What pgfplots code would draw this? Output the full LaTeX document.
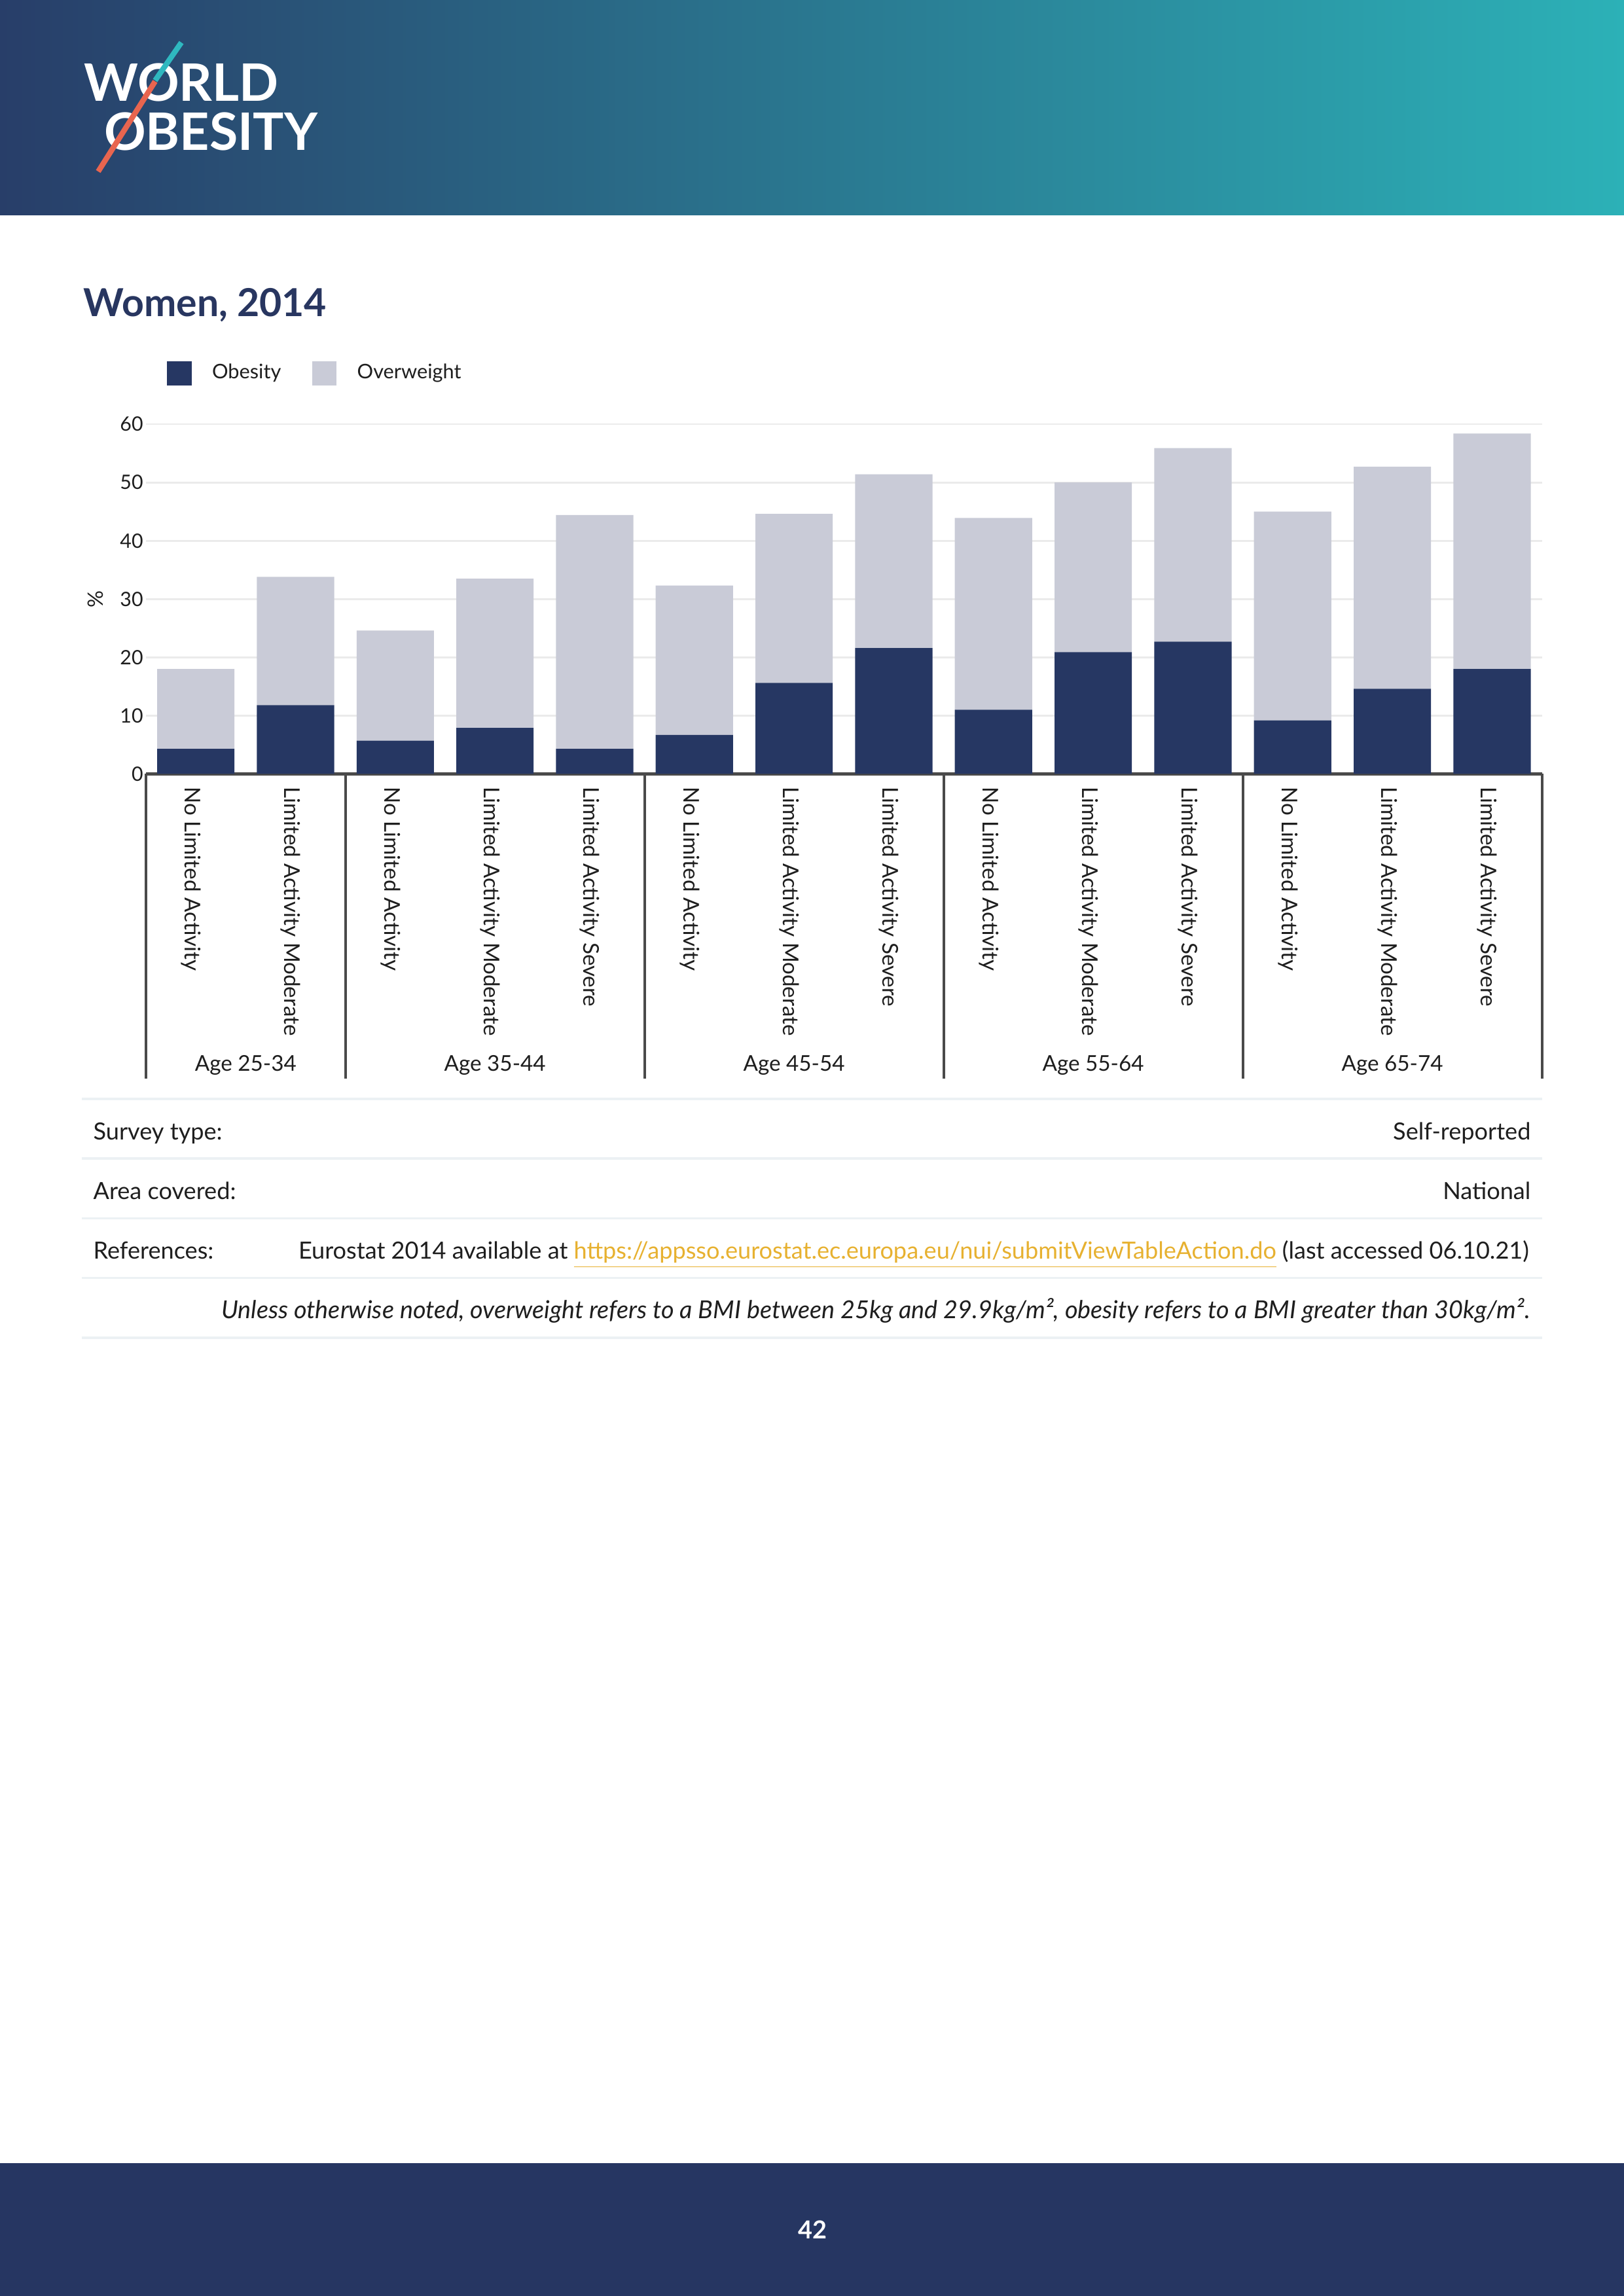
\documentclass[border=0pt]{standalone}
\usepackage{fontspec}
\setmainfont{Lato}
\usepackage{pgfplots}
\usepackage{pgfplotstable}
\pgfplotsset{compat=1.18}

\definecolor{obes}{HTML}{263763}
\definecolor{over}{HTML}{C9CBD7}
\definecolor{gridc}{HTML}{EBEBEB}
\definecolor{axc}{HTML}{4A4A4A}
\definecolor{rulec}{HTML}{ECF1F4}
\definecolor{navy}{HTML}{283660}
\definecolor{hdrA}{HTML}{283E69}
\definecolor{hdrB}{HTML}{2D6C8C}
\definecolor{hdrC}{HTML}{2CB1B7}
\definecolor{logoteal}{HTML}{2FB8C0}
\definecolor{logocoral}{HTML}{E8654F}
\definecolor{linkc}{HTML}{E7B130}
\definecolor{txt}{HTML}{1E1E1E}
\definecolor{footc}{HTML}{263662}

% women 2014, % of each group
\pgfplotstableread{
x  ob    ov
0  4.3   13.7
1  11.8  22.0
2  5.7   18.9
3  7.9   25.6
4  4.3   40.1
5  6.7   25.6
6  15.6  29.0
7  21.6  29.8
8  11.0  32.9
9  20.9  29.1
10 22.7  33.2
11 9.2   35.8
12 14.6  38.1
13 18.0  40.4
}\womendata

\begin{document}
\begin{tikzpicture}[x=1mm,y=1mm]
\path[use as bounding box] (0,0) rectangle (210,296.93);
\fill[white] (0,0) rectangle (210,296.93);

% header band and logo
\shade[left color=hdrA, middle color=hdrB, right color=hdrC] (0,269.1) rectangle (210,296.93);
\node[anchor=base west, inner sep=0, text=white, font=\fontsize{19}{20}\selectfont\bfseries] at (10.8,283.86) {WORLD};
\node[anchor=base west, inner sep=0, text=white, font=\fontsize{19}{20}\selectfont\bfseries] at (13.4,277.46) {OBESITY};
\draw[logoteal, line width=0.7mm] (23.45,291.43) -- (20.06,286.52);
\draw[logocoral, line width=0.7mm] (20.06,286.40) -- (12.70,274.75);

% title
\node[anchor=base west, inner sep=0, text=navy, font=\fontsize{14.2}{16}\selectfont\bfseries] at (10.75,256.0) {Women, 2014};

\begin{axis}[
  at={(18.876mm,196.84mm)}, anchor=south west,
  scale only axis, width=180.51mm, height=45.24mm,
  ybar stacked, bar width=10mm,
  xmin=-0.5, xmax=13.5, ymin=0, ymax=60,
  xtick={0,...,13}, ytick={0,10,...,60},
  xticklabels={No Limited Activity, Limited Activity Moderate,
    No Limited Activity, Limited Activity Moderate, Limited Activity Severe,
    No Limited Activity, Limited Activity Moderate, Limited Activity Severe,
    No Limited Activity, Limited Activity Moderate, Limited Activity Severe,
    No Limited Activity, Limited Activity Moderate, Limited Activity Severe},
  axis x line*=bottom, axis y line*=left,
  separate axis lines,
  x axis line style={draw=axc, line width=0.35mm},
  y axis line style={draw=none},
  tick style={draw=none}, major tick length=0pt,
  ymajorgrids, grid style={gridc, line width=0.25mm},
  /pgf/number format/assume math mode=true,
  yticklabel style={font=\fontsize{7.3}{8}\selectfont, text=txt, inner xsep=0.3mm},
  xticklabel style={font=\fontsize{8}{9}\selectfont, text=txt, inner sep=0pt,
    xshift=-1.4mm, yshift=-1.6mm, rotate=-90, anchor=base west},
  ylabel={\%},
  ylabel style={at={(axis description cs:-0.0361,0.5)}, anchor=center,
    font=\fontsize{7.8}{9}\selectfont, text=txt},
  legend columns=2,
  legend style={at={(axis description cs:0.01498,1.145)}, anchor=west,
    draw=none, fill=none, inner sep=0pt, outer sep=0pt,
    nodes={inner sep=0pt, font=\fontsize{7.4}{9}\selectfont, text=txt},
    /tikz/every odd column/.append style={column sep=2.65mm},
    /tikz/every even column/.append style={column sep=4.0mm}},
  legend image code/.code={\fill[#1] (0mm,-1.6mm) rectangle (3.2mm,1.6mm);},
  clip=false,
]
\addplot[fill=obes, draw=none] table[x=x, y=ob] {\womendata};
\addlegendentry{Obesity}
\addplot[fill=over, draw=none] table[x=x, y=ov] {\womendata};
\addlegendentry{Overweight}

% group separators and age labels
\pgfplotsinvokeforeach{-0.5,1.5,4.5,7.5,10.5,13.5}{
  \draw[axc, line width=0.33mm] (axis cs:#1,0) -- ([yshift=-39.4mm]axis cs:#1,0);
}
\node[anchor=base, inner sep=0, text=txt, font=\fontsize{8}{9}\selectfont] at ([yshift=-38.45mm]axis cs:0.5,0) {Age 25-34};
\node[anchor=base, inner sep=0, text=txt, font=\fontsize{8}{9}\selectfont] at ([yshift=-38.45mm]axis cs:3,0) {Age 35-44};
\node[anchor=base, inner sep=0, text=txt, font=\fontsize{8}{9}\selectfont] at ([yshift=-38.45mm]axis cs:6,0) {Age 45-54};
\node[anchor=base, inner sep=0, text=txt, font=\fontsize{8}{9}\selectfont] at ([yshift=-38.45mm]axis cs:9,0) {Age 55-64};
\node[anchor=base, inner sep=0, text=txt, font=\fontsize{8}{9}\selectfont] at ([yshift=-38.45mm]axis cs:12,0) {Age 65-74};
\end{axis}

% details table
\foreach \y in {154.79,147.11,139.35,131.65,123.91} {
  \draw[rulec, line width=0.3mm] (10.58,\y) -- (199.4,\y);
}
\begin{scope}[every node/.style={inner sep=0, text=txt, font=\fontsize{8.7}{10}\selectfont}]
\node[anchor=base west] at (12.0,149.50) {Survey type:};
\node[anchor=base east] at (198.0,149.50) {Self-reported};
\node[anchor=base west] at (12.0,141.83) {Area covered:};
\node[anchor=base east] at (198.0,141.83) {National};
\node[anchor=base west] at (12.0,134.13) {References:};
\node[anchor=base east] at (197.8,134.13) {Eurostat 2014 available at \textcolor{linkc}{\underline{https://appsso.eurostat.ec.europa.eu/nui/submitViewTableAction.do}} (last accessed 06.10.21)};
\node[anchor=base east, font=\fontsize{9.1}{10}\selectfont\itshape] at (197.9,126.43) {Unless otherwise noted, overweight refers to a BMI between 25kg and 29.9kg/m², obesity refers to a BMI greater than 30kg/m².};
\end{scope}

% footer
\fill[footc] (0,0) rectangle (210,17.17);
\node[anchor=base, inner sep=0, text=white, font=\fontsize{9.1}{11}\selectfont\bfseries] at (105.1,7.43) {42};
\end{tikzpicture}
\end{document}
